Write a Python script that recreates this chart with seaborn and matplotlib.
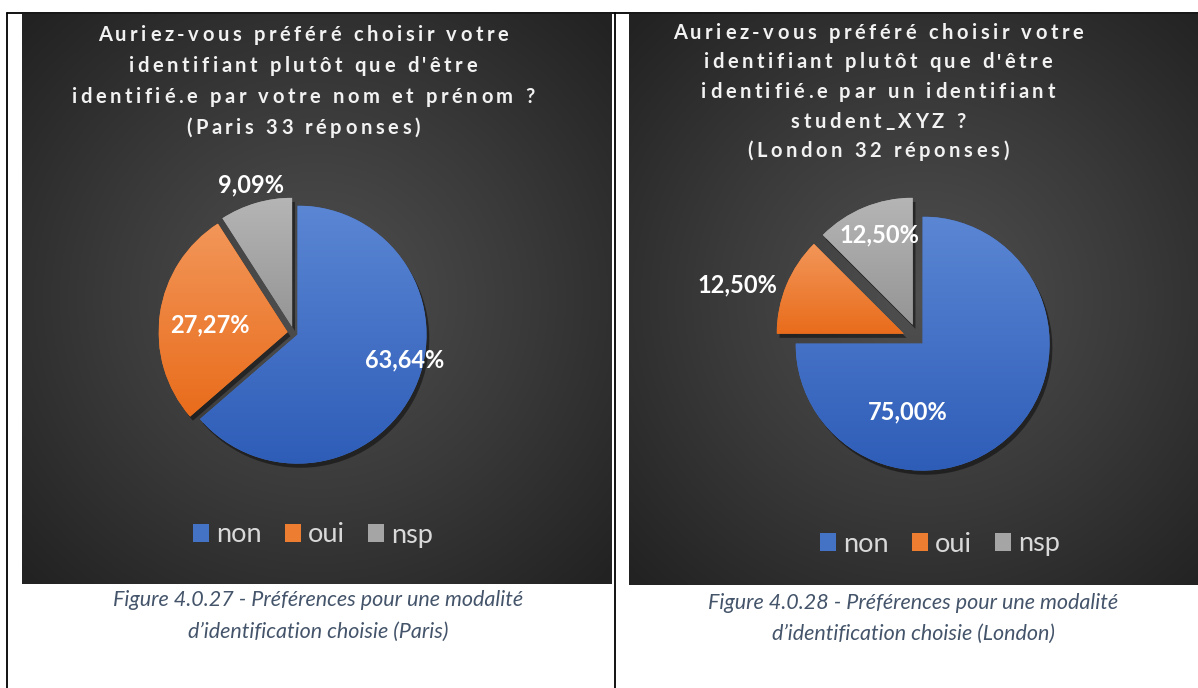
import numpy as np
import matplotlib
matplotlib.use("Agg")
import matplotlib.pyplot as plt
import seaborn as sns
from matplotlib.patches import Patch
from matplotlib.colors import LinearSegmentedColormap
from matplotlib import patheffects as pe
from matplotlib.font_manager import FontProperties, findfont, get_font

# data
categories = ["non", "oui", "nsp"]
paris_values = [63.64, 27.27, 9.09]
london_values = [75.00, 12.50, 12.50]

paris_title = ["Auriez-vous préféré choisir votre",
               "identifiant plutôt que d'être",
               "identifié.e par votre nom et prénom ?",
               "(Paris 33 réponses)"]
london_title = ["Auriez-vous préféré choisir votre",
                "identifiant plutôt que d'être",
                "identifié.e par un identifiant",
                "student_XYZ ?",
                "(London 32 réponses)"]
paris_caption = ["Figure 4.0.27 - Préférences pour une modalité",
                 "d’identification choisie (Paris)"]
london_caption = ["Figure 4.0.28 - Préférences pour une modalité",
                  "d’identification choisie (London)"]

base_colors = ["#4472C4", "#ED7D31", "#A5A5A5"]
top_colors = ["#5B86D4", "#F29659", "#B5B5B5"]
bottom_colors = ["#2E5DB8", "#E96C1B", "#959595"]

W, H = 1198, 688
sns.set_theme(style="white")
plt.rcParams["font.family"] = ["Lato", "DejaVu Sans"]

fig = plt.figure(figsize=(W / 100, H / 100), dpi=100)
fig.patch.set_facecolor("white")


def rect(x0, y0, x1, y1):
    return [x0 / W, 1 - y1 / H, (x1 - x0) / W, (y1 - y0) / H]


def spaced_text(x, y, s, size, tracking, color):
    # letter-spaced line, centred on x, baseline at y (pixels)
    prop = FontProperties(family="Lato", weight="bold", size=size)
    font = get_font(findfont(prop))
    font.set_size(size, 100)
    adv = [font.load_char(ord(c)).linearHoriAdvance / 65536 + tracking for c in s]
    cx = x - (sum(adv) - tracking) / 2
    for c, a in zip(s, adv):
        if c != " ":
            fig.text(cx / W, 1 - y / H, c, fontproperties=prop, color=color,
                     ha="left", va="baseline")
        cx += a


bg_cmap = LinearSegmentedColormap.from_list("bg", ["#505050", "#3a3a3a", "#222222"])


def panel(x0, y0, x1, y1):
    ax = fig.add_axes(rect(x0, y0, x1, y1))
    yy, xx = np.mgrid[-1:1:300j, -1:1:300j]
    d = np.clip(np.hypot(xx, yy) / 1.4, 0, 1)
    ax.imshow(d, cmap=bg_cmap, vmin=0, vmax=1, extent=(0, 1, 0, 1), aspect="auto")
    ax.set_axis_off()


def pie(cx, cy, R, values, explode, label_xy):
    S = 1.7 * R
    ax = fig.add_axes(rect(cx - S, cy - S, cx + S, cy + S))
    wedges, _ = ax.pie(values, colors=base_colors, startangle=90, counterclock=False,
                       explode=explode, radius=1, wedgeprops=dict(linewidth=0))
    for w, top, bot in zip(wedges, top_colors, bottom_colors):
        w.set_path_effects([pe.SimplePatchShadow(offset=(2, -3), shadow_rgbFace="black", alpha=0.45),
                            pe.Normal()])
        b = w.get_path().get_extents()
        cmap = LinearSegmentedColormap.from_list("g", [bot, top])
        img = ax.imshow(np.linspace(0, 1, 256).reshape(-1, 1), cmap=cmap, origin="lower",
                        extent=(b.x0, b.x1, b.y0, b.y1), aspect="auto", zorder=w.get_zorder() + 0.1)
        img.set_clip_path(w)
    for v, (lx, ly) in zip(values, label_xy):
        ax.text(lx, ly, f"{v:.2f}%".replace(".", ","), ha="center", va="center",
                color="white", fontsize=17, fontweight="bold", zorder=5)
    ax.set_xlim(-S / R, S / R)
    ax.set_ylim(-S / R, S / R)
    ax.set_axis_off()


def legend(x, y):
    handles = [Patch(facecolor=c, linewidth=0) for c in base_colors]
    fig.legend(handles, categories, ncol=3, loc="center", bbox_to_anchor=(x / W, 1 - y / H),
               frameon=False, fontsize=19.5, labelcolor="#D9D9D9", handlelength=0.6,
               handleheight=0.6, handletextpad=0.25, columnspacing=0.85)


# left panel (Paris)
panel(22, 14, 612, 584)
for i, line in enumerate(paris_title):
    spaced_text(303, 41 + i * 31, line, 14.5, 3.6, "#F2F2F2")
pie(294, 333, 129, paris_values, [0.03, 0.05, 0.05],
    [(0.86, -0.21), (-0.65, 0.06), (-0.33, 1.15)])
legend(313, 535)
for i, line in enumerate(paris_caption):
    fig.text(318 / W, 1 - (600 + i * 32) / H, line, ha="center", va="center",
             style="italic", color="#44546A", fontsize=15.5)

# right panel (London)
panel(629, 14, 1219, 585)
for i, line in enumerate(london_title):
    spaced_text(878, 39 + i * 29.5, line, 14.5, 3.6, "#F2F2F2")
pie(919, 340, 127, london_values, [0.04, 0.13, 0.13],
    [(-0.09, -0.57), (-1.43, 0.43), (-0.31, 0.83)])
legend(940, 544)
for i, line in enumerate(london_caption):
    fig.text(913 / W, 1 - (603 + i * 31) / H, line, ha="center", va="center",
             style="italic", color="#44546A", fontsize=15.5)

# table borders
for xs, ys in [([7, 1198], [13, 13]), ([7, 7], [13, 688]), ([615, 615], [13, 688])]:
    fig.add_artist(plt.Line2D([x / W for x in xs], [1 - y / H for y in ys],
                              color="black", lw=1.3, transform=fig.transFigure))

fig.savefig("out.png", dpi=100)
